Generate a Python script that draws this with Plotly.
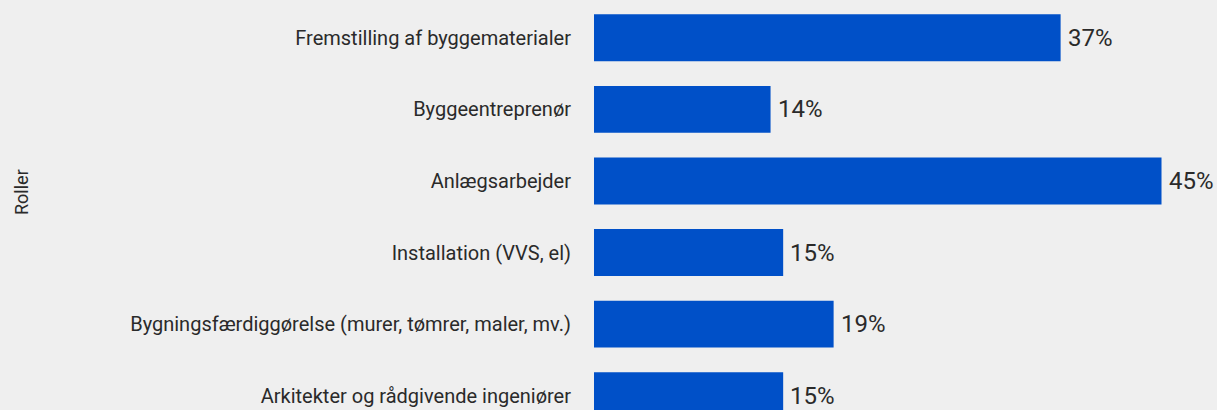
import plotly.graph_objects as go

categories = [
    "Fremstilling af byggematerialer",
    "Byggeentreprenør",
    "Anlægsarbejder",
    "Installation (VVS, el)",
    "Bygningsfærdiggørelse (murer, tømrer, maler, mv.)",
    "Arkitekter og rådgivende ingeniører",
]
values = [37, 14, 45, 15, 19, 15]
value_labels = [f"{v}%" for v in values]
axis_title = "Roller"

BG = "#efefef"
BAR = "#0050c8"
TXT = "#2a2a2a"
FONT = "Roboto"

fig = go.Figure(
    go.Bar(
        x=values,
        y=categories,
        orientation="h",
        marker=dict(color=BAR, line=dict(width=0)),
        width=0.655,
        hoverinfo="skip",
    )
)

annotations = [
    dict(
        x=v,
        y=c,
        xref="x",
        yref="y",
        text=t,
        showarrow=False,
        xanchor="left",
        yanchor="middle",
        xshift=5,
        font=dict(size=24, color=TXT, family=FONT),
    )
    for v, c, t in zip(values, categories, value_labels)
]
annotations.append(
    dict(
        text=axis_title,
        xref="paper",
        yref="paper",
        x=(21 - 594) / 623,
        y=(410 - 192) / 408,
        xanchor="center",
        yanchor="middle",
        textangle=-90,
        showarrow=False,
        font=dict(size=18, color=TXT, family=FONT),
    )
)

fig.update_layout(
    width=1217,
    height=410,
    margin=dict(l=594, r=0, t=2, b=0),
    paper_bgcolor=BG,
    plot_bgcolor=BG,
    showlegend=False,
    font=dict(family=FONT, color=TXT),
    xaxis=dict(
        range=[0, 49.4],
        visible=False,
        showgrid=False,
        zeroline=False,
    ),
    yaxis=dict(
        categoryorder="array",
        categoryarray=categories,
        range=[5.2, -0.5],
        showgrid=False,
        zeroline=False,
        showline=False,
        ticks="",
        ticklabelstandoff=22,
        tickfont=dict(size=20, color=TXT, family=FONT),
        automargin=False,
    ),
    annotations=annotations,
)

fig.write_html(
    "out.html",
    config={"displayModeBar": False},
    post_script="document.body.style.margin='0';document.body.style.background='%s';" % BG,
)
